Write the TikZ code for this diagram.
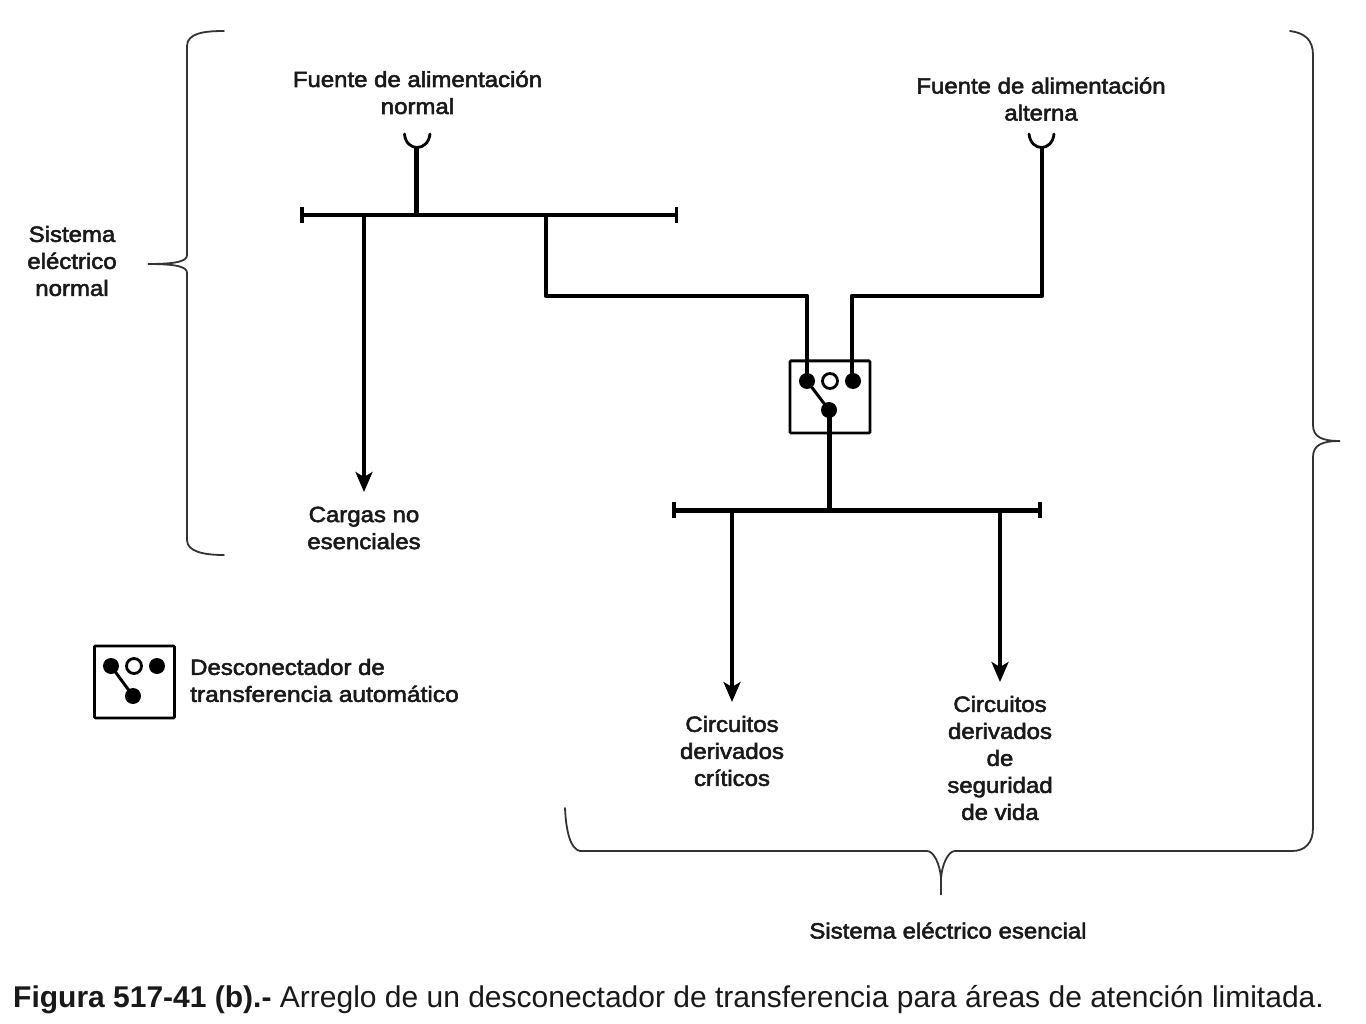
\documentclass[tikz,border=0pt]{standalone}
\usepackage{fontspec}
\setmainfont{Liberation Sans}
\newfontfamily\labfont[FakeBold=2.5,FakeStretch=1.09]{Liberation Sans}
\newfontfamily\labwide[FakeBold=2.5,FakeStretch=1.115]{Liberation Sans}
\usetikzlibrary{arrows.meta}
\tikzset{
  lab/.style={font=\labfont\fontsize{22}{27}\selectfont,align=center,inner sep=0pt,text=black!90},
  brace/.style={line width=1.8pt,black!80,line cap=round},
  busa/.style={line width=3.2pt},
  busb/.style={line width=5pt},
  feed/.style={line width=4.4pt,line join=round},
  load/.style={line width=3.2pt,-{Stealth[length=20pt,width=17pt,inset=5pt]}},
  endtick/.style={line width=4pt},
  frame/.style={draw,line width=2.8pt,inner sep=0pt,rounded corners=1pt,anchor=north west},
  pt/.style={circle,fill=black,inner sep=0pt,minimum size=16pt},
  ptopen/.style={circle,draw,line width=2.8pt,fill=white,inner sep=0pt,minimum size=15pt},
}
\begin{document}
\begin{tikzpicture}[x=1pt,y=-1pt]
\useasboundingbox (0,0) rectangle (1366,1024);
\fill[white] (0,0) rectangle (1366,1024);
% buses
\coordinate (b1w) at (302,215); \coordinate (b1e) at (677,215);
\coordinate (b1s) at (416.5,215); \coordinate (b1l) at (364,215); \coordinate (b1t) at (546,215);
\coordinate (b2w) at (674,510); \coordinate (b2e) at (1040,510);
\coordinate (b2c) at (829,510); \coordinate (b2a) at (732,510); \coordinate (b2b) at (1000,510);
\draw[busa] (b1w) -- (b1e);
\draw[endtick] (302,207) -- (302,223);
\draw[line width=3pt] (676.5,207) -- (676.5,223);
\draw[busb] (b2w) -- (b2e);
\draw[endtick] (674,502) -- (674,518);
\draw[endtick] (1040,502) -- (1040,518);
% sources
\coordinate (sa) at (416.5,147); \coordinate (sb) at (1042,147);
\draw[line width=2.8pt,line cap=round] (404.5,134) .. controls (406,152) and (428,152) .. (430,134);
\draw[line width=2.8pt,line cap=round] (1029,134) .. controls (1031,152) and (1052,152) .. (1054,134);
\draw[feed] (sa) -- (b1s);
% switch
\node[frame,minimum width=80pt,minimum height=72pt] (sw) at (788.5,359.5) {};
\node[pt] (swa) at (807,381) {};
\node[pt] (swb) at (853,381) {};
\node[ptopen] (swo) at (830,381) {};
\node[pt] (swc) at (829,410) {};
\draw[line width=3pt] (swa.center) -- (swc.center);
\coordinate (ta) at (807,296); \coordinate (tb) at (852,296); \coordinate (tc) at (546,296); \coordinate (td) at (1042,296);
\draw[feed] (b1t) -- (tc) -- (ta) -- (swa.center);
\draw[feed] (sb) -- (td) -- (tb) -- (852,381);
\draw[busb] (swc.center) -- (b2c);
% loads
\coordinate (la) at (364,492); \coordinate (lb) at (732,702); \coordinate (lc) at (1000,682);
\draw[load] (b1l) -- (la);
\draw[load] (b2a) -- (lb);
\draw[load] (b2b) -- (lc);
% legend
\node[frame,minimum width=80pt,minimum height=72pt] (leg) at (93,644.5) {};
\node[pt] (lga) at (111,666) {};
\node[pt] (lgb) at (157,666) {};
\node[ptopen] (lgo) at (134,666) {};
\node[pt] (lgc) at (133,696) {};
\draw[line width=3pt] (lga.center) -- (lgc.center);
% braces
\draw[brace] (224,31) .. controls (205,31) and (187,33) .. (187,46) -- (187,255)
  .. controls (187,261) and (178,264) .. (148,264)
  .. controls (178,264) and (187,267) .. (187,273) -- (187,540)
  .. controls (187,552) and (205,555) .. (224,555);
\draw[brace] (1290,31) .. controls (1305,33) and (1313,40) .. (1313,55) -- (1313,425)
  .. controls (1313,437) and (1322,441) .. (1340,441)
  .. controls (1322,441) and (1313,445) .. (1313,457) -- (1313,828)
  .. controls (1313,843) and (1305,851) .. (1292,851) -- (955,851)
  .. controls (948,851) and (942,865) .. (941,878) -- (941,895) -- (941,878)
  .. controls (940,865) and (934,851) .. (927,851) -- (580,851)
  .. controls (570,849) and (566,830) .. (565,808);
% labels
\node[lab] (t1) at (417.5,92.5) {Fuente de alimentación\\normal};
\node[lab] (t2) at (1041,99) {Fuente de alimentación\\alterna};
\node[lab] (t3) at (72,261) {Sistema\\eléctrico\\normal};
\node[lab] (t4) at (364,528) {Cargas no\\esenciales};
\node[lab,align=left,anchor=west] (t5) at (190,680.5) {Desconectador de\\{\labwide transferencia automático}};
\node[lab] (t6) at (732,751) {Circuitos\\derivados\\críticos};
\node[lab] (t7) at (1000,758) {Circuitos\\derivados\\de\\seguridad\\de vida};
\node[lab] (t8) at (948,930.5) {Sistema eléctrico esencial};
\node[inner sep=0pt,anchor=base west,font=\fontsize{30}{32}\selectfont,text=black!90] (cap) at (13,1007.5) {\textbf{Figura 517-41 (b).-} Arreglo de un desconectador de transferencia para áreas de atención limitada.};
\end{tikzpicture}
\end{document}
